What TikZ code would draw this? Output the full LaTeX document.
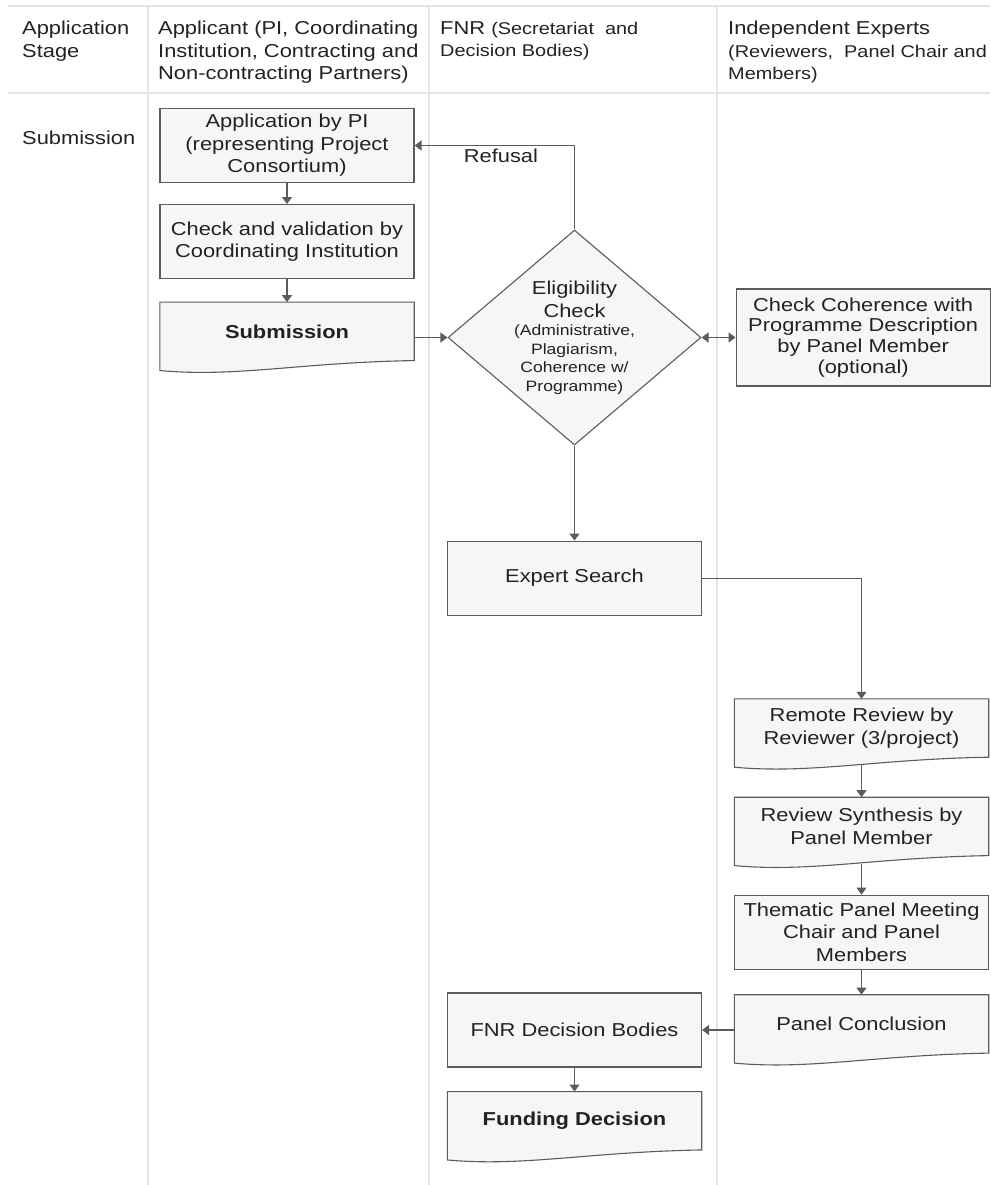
\documentclass[tikz,border=0pt]{standalone}
\usepackage{fontspec}
\setmainfont[FakeStretch=1.17]{Liberation Sans}
\usepackage{xcolor}
\usetikzlibrary{shapes}
\usetikzlibrary{arrows.meta}
\usetikzlibrary{positioning}
\usetikzlibrary{calc}
\usetikzlibrary{backgrounds}

\definecolor{lanegray}{HTML}{E4E4E4}
\definecolor{boxgray}{HTML}{F6F6F6}
\definecolor{edgegray}{HTML}{5C5C5C}
\definecolor{inkgray}{HTML}{222222}
\newcommand{\parenfont}{\fontsize{17}{22}\selectfont}

\begin{document}
\begin{tikzpicture}[x=1pt,y=-1pt,
    every node/.style={text=inkgray,font=\fontsize{18.7}{22.5}\selectfont},
    lane/.style={draw=lanegray,line width=1.6pt},
    head/.style={anchor=north west,align=left,inner sep=0pt},
    box/.style={draw=edgegray,fill=boxgray,line width=1.1pt,minimum width=254pt,minimum height=74pt,align=center,inner sep=0pt},
    docbox/.style={minimum width=254pt,minimum height=58pt,align=center,inner sep=0pt},
    docline/.style={draw=edgegray,fill=boxgray,line width=1.1pt},
    decision/.style={diamond,draw=edgegray,fill=boxgray,line width=1.1pt,minimum width=253pt,minimum height=215pt,inner sep=0pt},
    flow/.style={draw=edgegray,line width=1.2pt,-{Triangle[length=7pt,width=10pt]}}]
  \useasboundingbox (0,0) rectangle (990,1185);

  % swimlane grid
  \draw[lane] (8,6) -- (990,6);
  \draw[lane] (8,93) -- (990,93);
  \foreach \x in {148,429,717}
    \draw[lane] (\x,6) -- (\x,1185);

  % column headers
  \node[head] (h-stage) at (22,21) {Application\\Stage};
  \node[head] (h-applicant) at (158,21) {Applicant (PI, Coordinating\\Institution, Contracting and\\Non-contracting Partners)};
  \node[head] (h-fnr) at (440,21) {FNR {\parenfont (Secretariat\ \ and}\\{\parenfont Decision Bodies)}};
  \node[head] (h-experts) at (728,21) {Independent Experts\\{\parenfont (Reviewers,\ \ Panel Chair and}\\{\parenfont Members)}};
  \node[anchor=west,inner sep=0pt] (stage-sub) at (22,138) {Submission};

  % applicant column
  \node[box] (app) at (287,145.5) {Application by PI\\(representing Project\\Consortium)};
  \node[box,below=21pt of app] (chk) {Check and validation by\\Coordinating Institution};
  \node[docbox,below=23pt of chk] (sub) {\bfseries Submission};

  % FNR column
  \node[decision] (elig) at (574.5,337.5) {};
  \node[align=center,inner sep=0pt] (elig-title) at ($(elig.center)+(0,-38)$) {Eligibility\\Check};
  \node[align=center,inner sep=0pt,font=\fontsize{15}{18.5}\selectfont] (elig-note) at ($(elig.center)+(0,22)$) {(Administrative,\\Plagiarism,\\Coherence w/\\Programme)};
  \node[box,below=95pt of elig] (expert) {Expert Search};
  \node[box] (fnrdb) at (574.5,1030) {FNR Decision Bodies};
  \node[docbox,below=24pt of fnrdb] (fund) {\bfseries Funding Decision};

  % experts column
  \node[box,minimum height=97pt,font=\fontsize{18.7}{20.7}\selectfont,right=34pt of elig] (coh) {Check Coherence with\\Programme Description\\by Panel Member\\(optional)};
  \node[docbox] (remote) at (861.5,728) {Remote Review by\\Reviewer (3/project)};
  \node[docbox,below=40pt of remote] (synth) {Review Synthesis by\\Panel Member};
  \node[box,below=39pt of synth] (them) {Thematic Panel Meeting\\Chair and Panel\\Members};
  \node[docbox,below=25pt of them] (concl) {Panel Conclusion};

  % document outlines
  \begin{pgfonlayer}{background}
    \foreach \n in {sub,remote,synth,concl,fund}
      \draw[docline] (\n.north west) -- (\n.north east) -- (\n.south east)
        .. controls ($(\n.south east)!0.45!(\n.south west)+(0,2)$) and ($(\n.south west)!0.3!(\n.south east)+(0,17)$) .. ($(\n.south west)+(0,10)$) -- cycle;
  \end{pgfonlayer}

  % connectors
  \draw[flow] (app) -- (chk);
  \draw[flow] (chk) -- (sub);
  \draw[flow] (sub.east |- elig.west) -- (elig.west);
  \draw[flow] (elig.north) |- (app.east) node[pos=0.73,below=3pt,inner sep=0pt] (refusal) {Refusal};
  \draw[flow,{Triangle[length=7pt,width=10pt]}-{Triangle[length=7pt,width=10pt]}] (elig.east) -- (coh.west);
  \draw[flow] (elig.south) -- (expert.north);
  \draw[flow] (expert.east) -| (remote.north);
  \draw[flow,shorten <=8pt] (remote.south) -- (synth.north);
  \draw[flow,shorten <=8pt] (synth.south) -- (them.north);
  \draw[flow] (them.south) -- (concl.north);
  \draw[flow] (concl.west |- fnrdb.east) -- (fnrdb.east);
  \draw[flow] (fnrdb.south) -- (fund.north);
\end{tikzpicture}
\end{document}
